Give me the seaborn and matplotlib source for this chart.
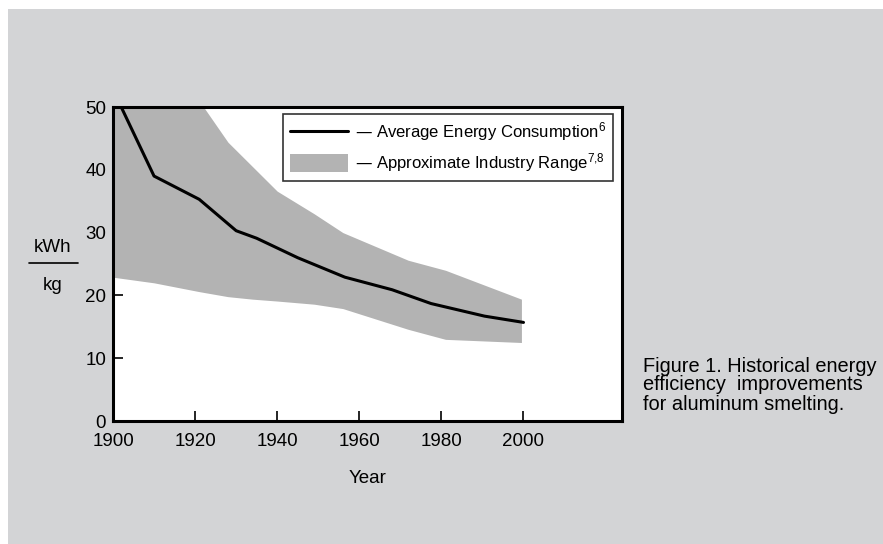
import matplotlib
matplotlib.use("Agg")
import matplotlib.pyplot as plt
from matplotlib.lines import Line2D
from matplotlib.patches import Patch, Rectangle
import pandas as pd
import seaborn as sns

# Average energy consumption (kWh/kg)
avg_years = [1902, 1910, 1921, 1930, 1935, 1945, 1956.5, 1968, 1977.5, 1990.5, 2000]
avg_values = [50.0, 39.0, 35.3, 30.3, 29.1, 26.0, 22.9, 20.9, 18.7, 16.7, 15.7]

# Approximate industry range
band_years = [1900, 1910, 1921, 1928, 1934, 1940, 1949, 1956, 1971.9, 1981, 1999.5]
band_upper = [70.0, 61.0, 51.0, 44.4, 40.5, 36.6, 33.0, 30.0, 25.6, 24.0, 19.4]
band_lower = [22.9, 22.0, 20.6, 19.8, 19.4, 19.1, 18.6, 17.9, 14.6, 13.0, 12.5]

x_ticks = [1900, 1920, 1940, 1960, 1980, 2000]
y_ticks = [0, 10, 20, 30, 40, 50]

sns.set_theme(style="white")
plt.rcParams["font.family"] = ["Liberation Sans", "DejaVu Sans"]
plt.rcParams["font.size"] = 13.5
plt.rcParams["text.color"] = "black"
plt.rcParams["mathtext.default"] = "regular"

panel = "#d3d4d6"
band = "#b3b3b3"

fig = plt.figure(figsize=(8.83, 5.44), dpi=100)
fig.patch.set_facecolor("white")
fig.patches.append(Rectangle((8 / 883, 0), 1, 1 - 9 / 544, transform=fig.transFigure,
                             facecolor=panel, edgecolor="none", zorder=-10))

ax = fig.add_axes([113 / 883, 1 - 421 / 544, (622 - 113) / 883, (421 - 107) / 544])
ax.set_facecolor("white")

ax.fill_between(band_years, band_lower, band_upper, color=band, lw=0, zorder=1)
df = pd.DataFrame({"Year": avg_years, "kWh/kg": avg_values})
sns.lineplot(data=df, x="Year", y="kWh/kg", color="black", lw=2.2, ax=ax, zorder=3)

ax.set_xlim(1900, 2024)
ax.set_ylim(0, 50)
ax.set_xticks(x_ticks)
ax.set_yticks(y_ticks)
ax.set_xticks([2012], minor=True)
ax.tick_params(axis="both", which="major", direction="in", length=7, width=1.2,
               color="black", labelsize=13.5, labelcolor="black")
ax.tick_params(axis="x", which="major", pad=9, bottom=True)
ax.tick_params(axis="y", which="major", pad=5, left=True)
ax.tick_params(axis="x", which="minor", direction="out", length=4, width=1.2, color="black")
for s in ax.spines.values():
    s.set_linewidth(2.2)
    s.set_color("black")

ax.set_xlabel("Year", fontsize=13.5, color="black", labelpad=14)
ax.set_ylabel("")

# kWh / kg fraction label
fig.text(53 / 883, 1 - 248 / 544, "kWh", ha="center", va="center", fontsize=13.5)
fig.lines.append(Line2D([29 / 883, 78 / 883], [1 - 263 / 544, 1 - 263 / 544],
                        transform=fig.transFigure, color="black", lw=1.2))
fig.text(53 / 883, 1 - 286 / 544, "kg", ha="center", va="center", fontsize=13.5)

handles = [Line2D([0], [0], color="black", lw=2.2),
           Patch(facecolor=band, edgecolor="none")]
labels = ["— Average Energy Consumption$^{6}$", "— Approximate Industry Range$^{7{,}8}$"]
leg = ax.legend(handles, labels, loc="upper right", bbox_to_anchor=(0.982, 0.978),
                frameon=True, fancybox=False, fontsize=12, handlelength=3.5,
                handleheight=1.3, handletextpad=0.4, borderpad=0.4,
                labelspacing=0.45, borderaxespad=0)
leg.get_frame().set_edgecolor("black")
leg.get_frame().set_linewidth(1.2)
for t in leg.get_texts():
    t.set_color("black")

fig.text(643 / 883, 1 - 385 / 544,
         "Figure 1. Historical energy\nefficiency  improvements\nfor aluminum smelting.",
         ha="left", va="center", fontsize=14.4, linespacing=1.0)

fig.savefig("out.png", dpi=100)
